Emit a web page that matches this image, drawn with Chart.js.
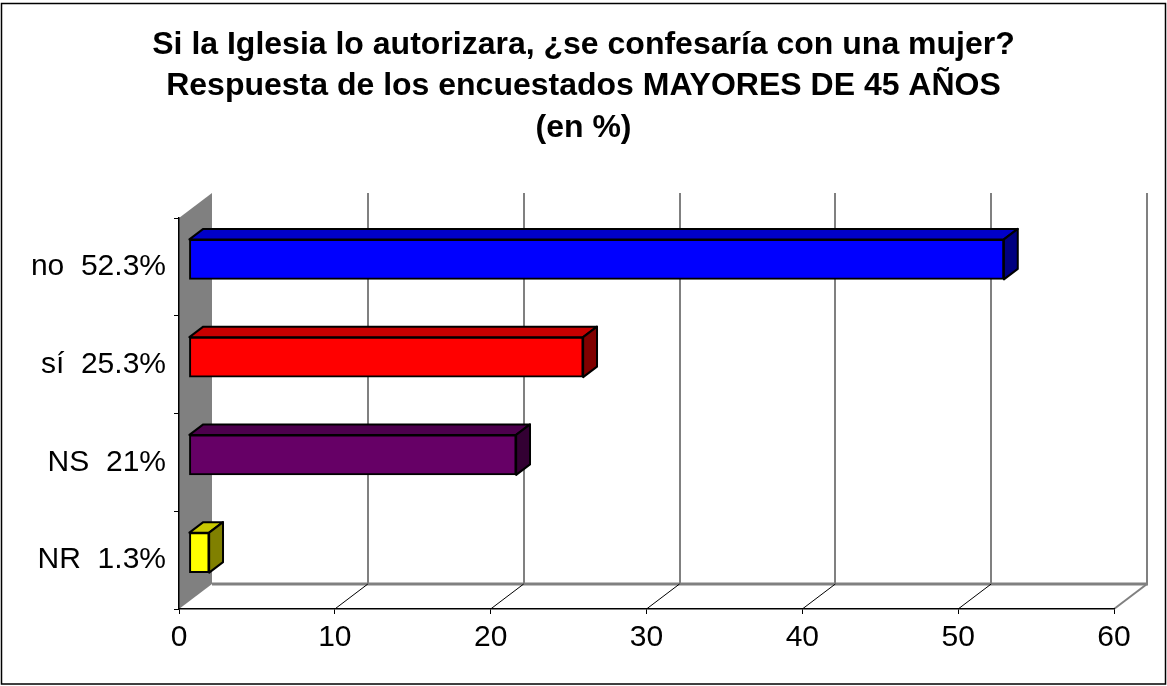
<!DOCTYPE html>
<html>
<head>
<meta charset="utf-8">
<script src="https://cdn.jsdelivr.net/npm/chart.js@4.4.1/dist/chart.umd.min.js"></script>
<style>
  body { margin: 0; background: #fff; }
</style>
</head>
<body>
<canvas id="encuestaChart" width="1167" height="686"></canvas>
<script>
// ===================== datos =====================
// categorías de respuesta
const categorias = ['no', 'sí', 'NS', 'NR'];

// porcentaje de cada respuesta
const porcentajes = [52.3, 25.3, 21, 1.3];

// marcas del eje de valores
const ticksX = [0, 10, 20, 30, 40, 50, 60];

// título en tres renglones
const titulo = [
    'Si la Iglesia lo autorizara, ¿se confesaría con una mujer?',
    'Respuesta de los encuestados MAYORES DE 45 AÑOS',
    '(en %)'
];

// etiqueta de cada categoría con su valor
const etiquetas = categorias.map((c, i) => c + '  ' + porcentajes[i] + '%');

// ===================== estilo =====================
// colores de cada barra: frente, tapa, costado
const colorFrente = ['#0000ff', '#ff0000', '#660066', '#ffff00'];
const colorTapa = ['#0000c8', '#c80000', '#4d004d', '#c8c800'];
const colorCostado = ['#000080', '#800000', '#330033', '#808000'];

// profundidad del efecto 3D (px)
const PROF_X = 33;
const PROF_Y = -25;
// tramo de la profundidad que ocupa la barra
const BARRA_INI = 0.3;
const BARRA_FIN = 0.72;

const FUENTE = "'Liberation Sans', Arial, sans-serif";

// ===================== plugins =====================
// fondo, marco, pared izquierda, piso y rejilla del fondo
const fondo3d = {
    id: 'fondo3d',
    afterLayout(chart) {
        // el título se centra sobre todo el lienzo
        const t = chart.titleBlock;
        if (t) {
            t.left = 0;
            t.right = chart.width;
            t.width = chart.width;
        }
    },
    beforeDraw(chart) {
        const ctx = chart.ctx;
        const a = chart.chartArea;
        const sx = chart.scales.x;
        const primero = ticksX[0];
        const ultimo = ticksX[ticksX.length - 1];

        ctx.save();
        ctx.fillStyle = '#fff';
        ctx.fillRect(0, 0, chart.width, chart.height);

        // marco exterior
        ctx.strokeStyle = '#000';
        ctx.lineWidth = 1.5;
        ctx.strokeRect(1.5, 3.5, chart.width - 3, chart.height - 5.5);

        // pared izquierda gris
        ctx.fillStyle = '#808080';
        ctx.beginPath();
        ctx.moveTo(a.left, a.top);
        ctx.lineTo(a.left + PROF_X, a.top + PROF_Y);
        ctx.lineTo(a.left + PROF_X, a.bottom + PROF_Y);
        ctx.lineTo(a.left, a.bottom);
        ctx.closePath();
        ctx.fill();

        // líneas de división en la pared del fondo
        ctx.strokeStyle = '#808080';
        ctx.lineWidth = 2;
        ticksX.forEach(v => {
            if (v === primero) return;
            const px = Math.round(sx.getPixelForValue(v) + PROF_X);
            ctx.beginPath();
            ctx.moveTo(px, a.top + PROF_Y);
            ctx.lineTo(px, a.bottom + PROF_Y);
            ctx.stroke();
        });

        // borde trasero del piso
        ctx.lineWidth = 3;
        ctx.beginPath();
        ctx.moveTo(a.left + PROF_X, a.bottom + PROF_Y);
        ctx.lineTo(sx.getPixelForValue(ultimo) + PROF_X + 1, a.bottom + PROF_Y);
        ctx.stroke();

        // borde derecho del piso
        ctx.lineWidth = 2;
        ctx.beginPath();
        ctx.moveTo(sx.getPixelForValue(ultimo), a.bottom);
        ctx.lineTo(sx.getPixelForValue(ultimo) + PROF_X, a.bottom + PROF_Y);
        ctx.stroke();

        // diagonales del piso
        ctx.strokeStyle = '#000';
        ctx.lineWidth = 1;
        ticksX.forEach(v => {
            if (v === primero || v === ultimo) return;
            const px = sx.getPixelForValue(v);
            ctx.beginPath();
            ctx.moveTo(px, a.bottom);
            ctx.lineTo(px + PROF_X, a.bottom + PROF_Y);
            ctx.stroke();
        });
        ctx.restore();
    }
};

// tapa y costado de cada barra; el frente lo dibuja Chart.js desplazado
const barras3d = {
    id: 'barras3d',
    beforeDatasetDraw(chart, args) {
        const ctx = chart.ctx;
        const dx = PROF_X * (BARRA_FIN - BARRA_INI);
        const dy = PROF_Y * (BARRA_FIN - BARRA_INI);

        ctx.save();
        ctx.translate(PROF_X * BARRA_INI, PROF_Y * BARRA_INI);
        ctx.lineWidth = 2;
        ctx.strokeStyle = '#000';
        ctx.lineJoin = 'round';

        args.meta.data.forEach((bar, i) => {
            const p = bar.getProps(['x', 'y', 'base', 'height'], true);
            const arriba = p.y - p.height / 2;
            const abajo = p.y + p.height / 2;

            // tapa
            ctx.fillStyle = colorTapa[i];
            ctx.beginPath();
            ctx.moveTo(p.base, arriba);
            ctx.lineTo(p.base + dx, arriba + dy);
            ctx.lineTo(p.x + dx, arriba + dy);
            ctx.lineTo(p.x, arriba);
            ctx.closePath();
            ctx.fill();
            ctx.stroke();

            // costado
            ctx.fillStyle = colorCostado[i];
            ctx.beginPath();
            ctx.moveTo(p.x, arriba);
            ctx.lineTo(p.x + dx, arriba + dy);
            ctx.lineTo(p.x + dx, abajo + dy);
            ctx.lineTo(p.x, abajo);
            ctx.closePath();
            ctx.fill();
            ctx.stroke();
        });
    },
    afterDatasetDraw(chart) {
        chart.ctx.restore();
    }
};

// ===================== gráfico =====================
const ctxEncuesta = document.getElementById('encuestaChart');

new Chart(ctxEncuesta, {
    type: 'bar',
    data: {
        labels: etiquetas,
        datasets: [{
            data: porcentajes,
            backgroundColor: colorFrente,
            borderColor: '#000',
            borderWidth: 2,
            borderSkipped: false,
            barThickness: 40,
            clip: false
        }]
    },
    options: {
        responsive: false,
        animation: false,
        indexAxis: 'y',
        layout: {
            padding: { left: 0, right: 53, top: 0, bottom: 0 }
        },
        plugins: {
            legend: { display: false },
            tooltip: { enabled: false },
            title: {
                display: true,
                text: titulo,
                color: '#000',
                font: { family: FUENTE, size: 32, weight: 'bold', lineHeight: 1.3 },
                padding: { top: 24, bottom: 69.2 }
            }
        },
        scales: {
            x: {
                min: ticksX[0],
                max: ticksX[ticksX.length - 1],
                afterBuildTicks(scale) {
                    scale.ticks = ticksX.map(v => ({ value: v }));
                },
                ticks: {
                    color: '#000',
                    font: { family: FUENTE, size: 30 },
                    padding: 6,
                    maxRotation: 0
                },
                grid: {
                    drawOnChartArea: false,
                    tickLength: 5,
                    color: '#000',
                    lineWidth: 1
                },
                border: { color: '#000', width: 1.5 },
                afterFit(scale) {
                    scale.height = 77;
                }
            },
            y: {
                ticks: {
                    color: '#000',
                    font: { family: FUENTE, size: 30 },
                    padding: 8
                },
                grid: {
                    drawOnChartArea: false,
                    offset: true,
                    tickLength: 5,
                    color: '#000',
                    lineWidth: 1
                },
                border: { color: '#000', width: 1.5 },
                afterFit(scale) {
                    scale.width = 179;
                }
            }
        }
    },
    plugins: [fondo3d, barras3d]
});
</script>
</body>
</html>
